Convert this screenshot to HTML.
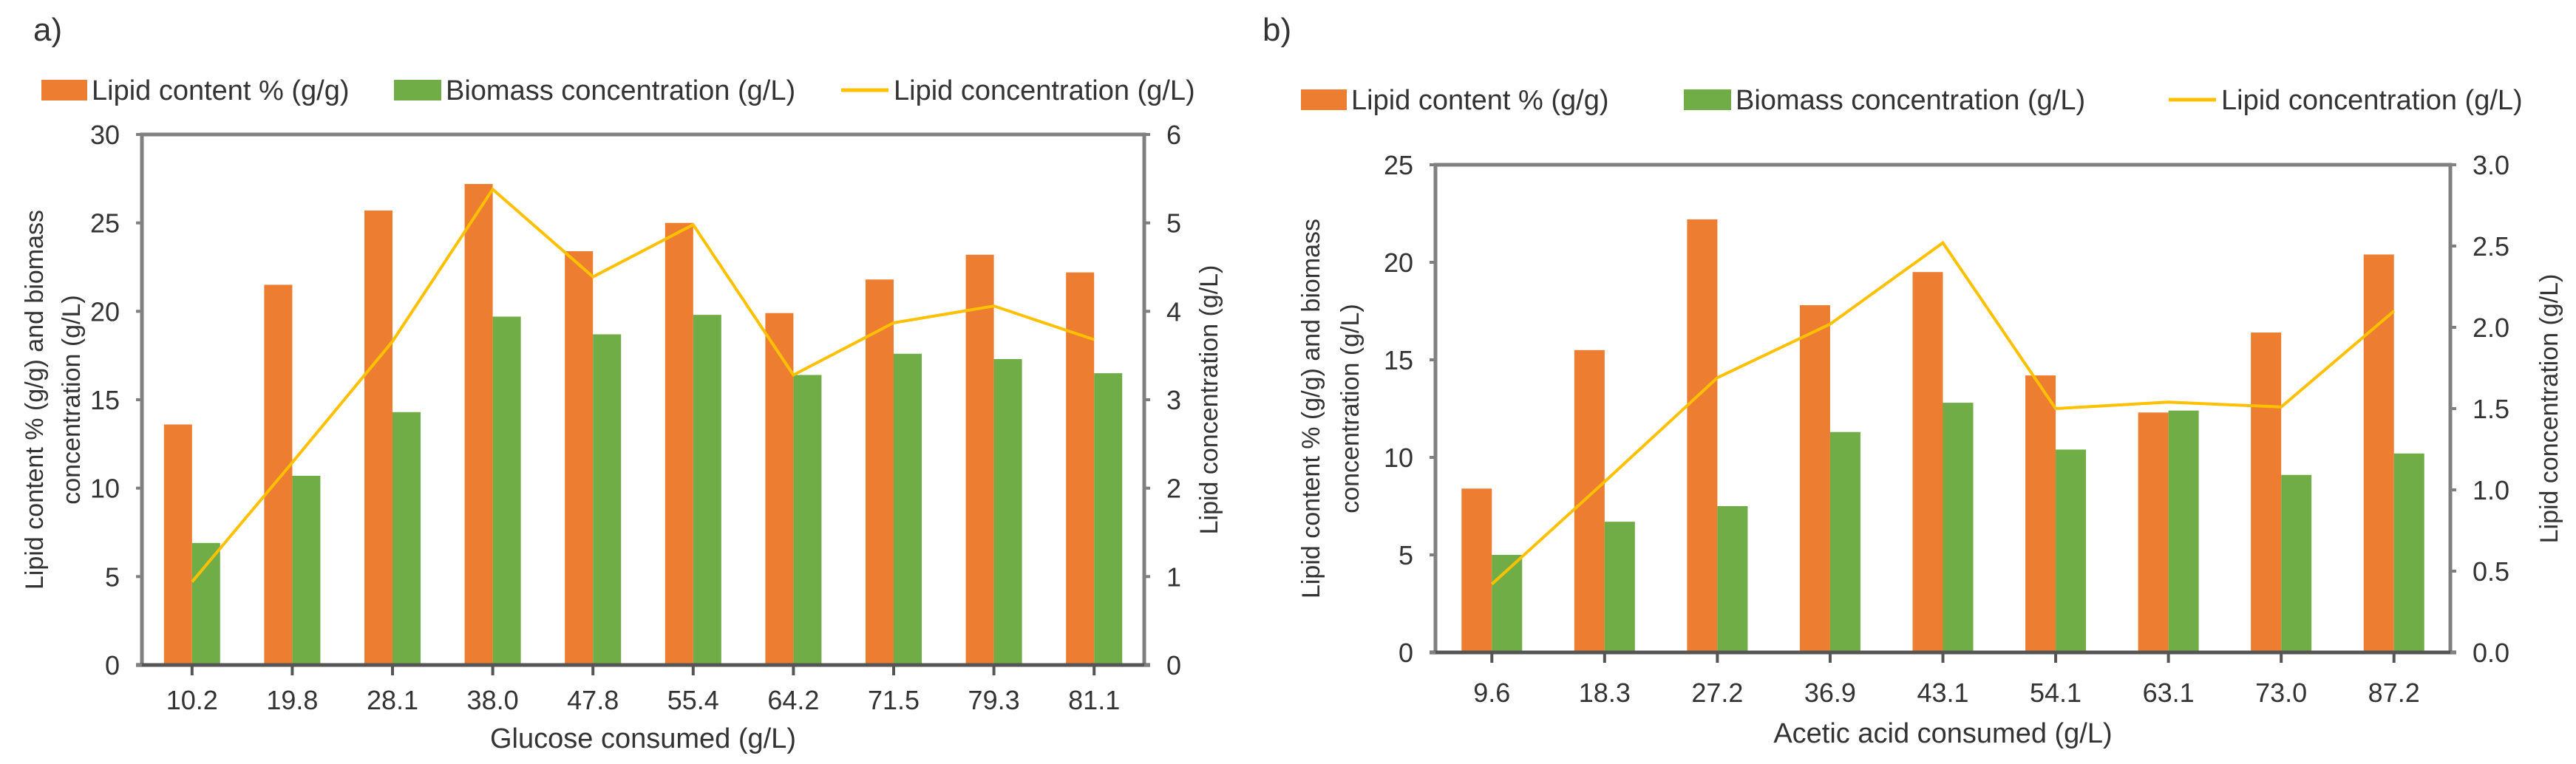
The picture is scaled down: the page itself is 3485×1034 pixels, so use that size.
<!DOCTYPE html>
<html><head><meta charset="utf-8">
<style>
html,body{margin:0;padding:0;background:#fff;}
svg{display:block;}
text{fill:#333;}
.tk{font-family:"Liberation Sans Narrow","Liberation Sans",sans-serif;font-size:36px;}
.lg{font-family:"Liberation Sans Narrow","Liberation Sans",sans-serif;font-size:38px;}
.ti{font-family:"Liberation Sans",sans-serif;font-size:34px;}
.xt{font-family:"Liberation Sans Narrow","Liberation Sans",sans-serif;font-size:38px;}
.pl{font-family:"Liberation Sans Narrow","Liberation Sans",sans-serif;font-size:44px;}
</style></head>
<body>
<svg id="root" width="3485" height="1034" viewBox="0 0 3485 1034" xmlns="http://www.w3.org/2000/svg">
<text class="pl" x="45" y="55">a)</text>
<text class="pl" x="1708" y="55">b)</text>
<g id="chartA"></g>
<g id="chartB"></g>
</svg>
<script>
// Chart a data
const catsA = ["10.2","19.8","28.1","38.0","47.8","55.4","64.2","71.5","79.3","81.1"];
const lipidContentA = [13.6,21.5,25.7,27.2,23.4,25.0,19.9,21.8,23.2,22.2];
const biomassA = [6.9,10.7,14.3,19.7,18.7,19.8,16.4,17.6,17.3,16.5];
const lipidConcA = [0.94,2.29,3.66,5.38,4.39,4.98,3.28,3.87,4.06,3.68];
const leftTicksA = [0,5,10,15,20,25,30];
const rightTicksA = ["0","1","2","3","4","5","6"];
// Chart b data
const catsB = ["9.6","18.3","27.2","36.9","43.1","54.1","63.1","73.0","87.2"];
const lipidContentB = [8.4,15.5,22.2,17.8,19.5,14.2,12.3,16.4,20.4];
const biomassB = [5.0,6.7,7.5,11.3,12.8,10.4,12.4,9.1,10.2];
const lipidConcB = [0.42,1.05,1.69,2.02,2.52,1.50,1.54,1.51,2.10];
const leftTicksB = [0,5,10,15,20,25];
const rightTicksB = ["0.0","0.5","1.0","1.5","2.0","2.5","3.0"];

const NS="http://www.w3.org/2000/svg";
function mk(parent,tag,attrs,txt){const e=document.createElementNS(NS,tag);for(const k in attrs)e.setAttribute(k,attrs[k]);if(txt!==undefined)e.textContent=txt;parent.appendChild(e);return e;}

function draw(g,cfg,cats,lc,bm,conc,lt,rt){
  const {x0,x1,yTop,yBot,lmax,rmax,barW}=cfg;
  const n=cats.length, step=(x1-x0)/n;
  const xc=i=>x0+step*(i+0.5);
  const yl=v=>yBot-(v/lmax)*(yBot-yTop);
  const yr=v=>yBot-(v/rmax)*(yBot-yTop);
  // bars
  for(let i=0;i<n;i++){
    const r1=mk(g,'rect',{x:xc(i)-barW,y:yl(lc[i]),width:barW,height:yBot-yl(lc[i]),fill:'#ED7D31'});
    
    
    const r2=mk(g,'rect',{x:xc(i),y:yl(bm[i]),width:barW,height:yBot-yl(bm[i]),fill:'#70AD47'});
    
    
  }
  // axes
  const ax=mk(g,'path',{d:`M${x0},${yTop} H${x1} V${yBot} H${x0} Z`,fill:'none',stroke:'#808080','stroke-width':5});
  
  
  mk(g,'line',{x1:x0-8,x2:x1+8,y1:yBot,y2:yBot,stroke:'#555','stroke-width':5});
  // left ticks
  lt.forEach(v=>{
    mk(g,'line',{x1:x0-8,x2:x0,y1:yl(v),y2:yl(v),stroke:'#808080','stroke-width':4});
    const t=mk(g,'text',{class:'tk',x:x0-30,y:yl(v)+13,'text-anchor':'end'},String(v));
    
    
  });
  rt.forEach(s=>{
    const v=parseFloat(s);
    mk(g,'line',{x1:x1,x2:x1+8,y1:yr(v),y2:yr(v),stroke:'#808080','stroke-width':4});
    const t=mk(g,'text',{class:'tk',x:x1+30,y:yr(v)+13,'text-anchor':'start'},s);
    
    
  });
  cats.forEach((c,i)=>{
    mk(g,'line',{x1:xc(i),x2:xc(i),y1:yBot,y2:yBot+14,stroke:'#555','stroke-width':4});
    const t=mk(g,'text',{class:'tk',x:xc(i),y:cfg.xlabY,'text-anchor':'middle'},c);
    
    
  });
  // line
  const pts=conc.map((v,i)=>xc(i)+','+yr(v)).join(' ');
  const pl=mk(g,'polyline',{points:pts,fill:'none',stroke:'#FFC000','stroke-width':4,'stroke-linejoin':'miter'});
  
  
  // titles
  const xt=mk(g,'text',{class:'xt',x:(x0+x1)/2,y:cfg.xtitY,'text-anchor':'middle'},cfg.xtitle);
  
  
  const cy=(yTop+yBot)/2;
  const l1=mk(g,'text',{class:'ti',x:0,y:0,'text-anchor':'middle',transform:`translate(${cfg.lt1x},${cy}) rotate(-90)`},'Lipid content  % (g/g) and biomass');
  
  
  const l2=mk(g,'text',{class:'ti',x:0,y:0,'text-anchor':'middle',transform:`translate(${cfg.lt2x},${cy}) rotate(-90)`},'concentration (g/L)');
  
  
  const r=mk(g,'text',{class:'ti',x:0,y:0,'text-anchor':'middle',transform:`translate(${cfg.rtx},${cy}) rotate(-90)`},'Lipid concentration (g/L)');
  
  
  // legend
  const L=cfg.leg;
  const s1=mk(g,'rect',{x:L.o,y:L.y-14,width:62,height:28,fill:'#ED7D31'});
  
  
  const t1=mk(g,'text',{class:'lg',x:L.o+68,y:L.y+13},'Lipid content % (g/g)');
  
  
  const s2=mk(g,'rect',{x:L.g,y:L.y-14,width:64,height:28,fill:'#70AD47'});
  
  
  const t2=mk(g,'text',{class:'lg',x:L.g+70,y:L.y+13},'Biomass concentration (g/L)');
  
  
  const s3=mk(g,'line',{x1:L.l,x2:L.l+64,y1:L.y,y2:L.y,stroke:'#FFC000','stroke-width':5});
  
  
  const t3=mk(g,'text',{class:'lg',x:L.l+71,y:L.y+13},'Lipid concentration (g/L)');
  
  
}

draw(document.getElementById('chartA'),
 {x0:192,x1:1548,yTop:182,yBot:900,lmax:30,rmax:6,barW:38,xlabY:960,xtitY:1012,
  xtitle:'Glucose consumed (g/L)',lt1x:58,lt2x:108,rtx:1647,leg:{o:56,g:533,l:1138,y:122}},
 catsA,lipidContentA,biomassA,lipidConcA,leftTicksA,rightTicksA);
draw(document.getElementById('chartB'),
 {x0:1942,x1:3315,yTop:223,yBot:883,lmax:25,rmax:3,barW:41,xlabY:950,xtitY:1005,
  xtitle:'Acetic acid consumed (g/L)',lt1x:1785,lt2x:1838,rtx:3460,leg:{o:1760,g:2278,l:2934,y:135}},
 catsB,lipidContentB,biomassB,lipidConcB,leftTicksB,rightTicksB);
</script>
</body></html>
